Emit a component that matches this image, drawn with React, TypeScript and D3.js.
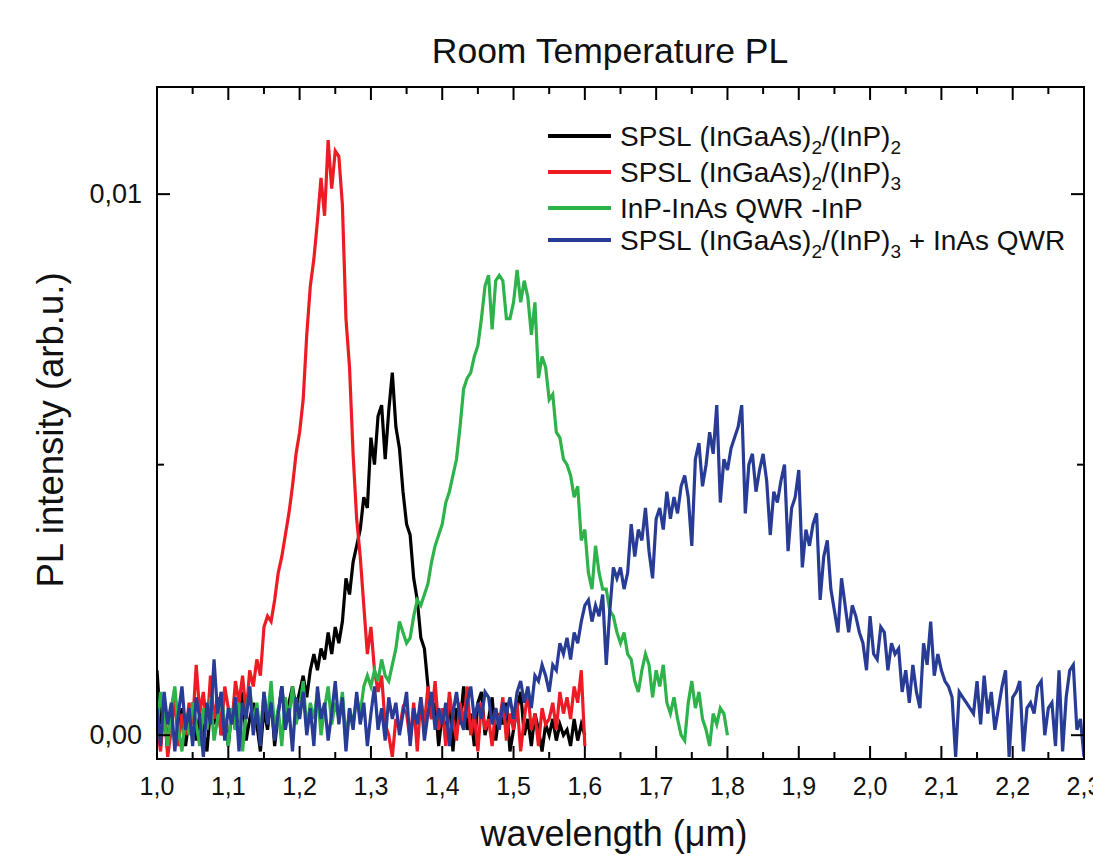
import React from "react";
import * as d3 from "d3";

// Spectra sampled on a uniform wavelength grid (µm), intensities in units of 1e-4 arb.u.
const lambdaStart = 1.0;
const lambdaStep = 0.005;
const intensityUnit = 1e-4;

const seriesLabels = [
  [{ t: "SPSL (InGaAs)" }, { t: "2", sub: true }, { t: "/(InP)" }, { t: "2", sub: true }],
  [{ t: "SPSL (InGaAs)" }, { t: "2", sub: true }, { t: "/(InP)" }, { t: "3", sub: true }],
  [{ t: "InP-InAs QWR -InP" }],
  [{ t: "SPSL (InGaAs)" }, { t: "2", sub: true }, { t: "/(InP)" }, { t: "3", sub: true }, { t: " + InAs QWR" }],
];

// SPSL (InGaAs)2/(InP)2 : 1.000 .. 1.600
const blackSpsl22 = [
  12, 2, 6, -3, 4, 8, 0, 5, -2, 3,
  6, -1, 4, 1, -3, 5, 2, 7, 0, 3,
  -2, 5, 1, 4, 8, -1, 3, 6, 2, -3,
  5, 1, 7, -2, 4, 9, 3, 6, 9, 5,
  8, 11, 7, 12, 15, 12, 16, 14, 19, 15,
  20, 17, 21, 29, 26, 32, 35, 38, 44, 42,
  55, 50, 59, 61, 51, 60, 67, 57, 53, 45,
  39, 37, 29, 25, 18, 16, 9, 3, 6, -2,
  4, 0, 7, -3, 5, 2, 9, 1, 4, -2,
  6, 8, 0, 3, 7, -1, 4, 2, 6, -3,
  1, 5, 8, 0, 3, -2, 4, 1, -3, 2,
  0, 3, -1, 2, 0, 1, -2, 3, -1, 2,
  0,
];

// SPSL (InGaAs)2/(InP)3 : 1.000 .. 1.600
const redSpsl23 = [
  2, -3, 5, -4, 1, 7, -2, 4, 0, 6,
  2, 13, 4, 8, 1, 11, 3, 7, 0, 9,
  5, 2, 10, 6, 11, 4, 12, 9, 14, 11,
  20, 22, 21, 25, 30, 33, 37, 41, 46, 52,
  56, 62, 74, 83, 88, 95, 103, 96, 110, 101,
  108, 107, 98, 77, 68, 52, 40, 33, 24, 15,
  20, 12, 8, 11, 2, 0, -4, 3, 1, 5,
  4, -1, 6, -3, 7, 2, 9, 3, 10, 1,
  5, -2, 8, 3, -1, 6, 2, 9, 0, 4,
  -3, 6, 1, 3, -2, 5, 2, 7, -1, 4,
  1, 6, -3, 3, 8, 1, 4, -2, 5, 2,
  3, 6, 1, 8, 4, 7, 3, 9, 6, 12,
  -2,
];

// InP-InAs QWR -InP : 1.000 .. 1.800
const greenQwr = [
  1, 8, 3, -2, 5, 9, 1, -3, 4, 0,
  6, 2, -2, 5, 1, 7, -1, 3, 8, 2,
  -2, 5, 1, 6, -3, 4, 9, 2, 6, 0,
  8, 3, 10, 1, 5, -2, 7, 3, 9, 2,
  5, 10, 1, 6, 3, 8, 0, 5, 9, 2,
  6, 3, 8, -1, 5, 2, 7, 4, 9, 11,
  9, 12, 10, 14, 11, 10, 13, 16, 21, 19,
  17, 18, 22, 25, 24, 26, 28, 32, 35, 37,
  39, 43, 45, 48, 51, 57, 64, 66, 67, 70,
  72, 77, 83, 85, 75, 84, 85, 84, 77, 77,
  80, 86, 80, 84, 81, 74, 80, 66, 70, 68,
  62, 63, 56, 55, 51, 50, 48, 44, 46, 36,
  38, 30, 27, 35, 30, 27, 27, 23, 22, 19,
  17, 19, 15, 14, 10, 8, 12, 15, 13, 7,
  12, 9, 13, 6, 4, 7, 3, 0, -1, 6,
  10, 5, 8, 3, 1, -2, 4, 2, 5, 4,
  0,
];

// SPSL (InGaAs)2/(InP)3 + InAs QWR : 1.000 .. 2.300
const blueSpslQwr = [
  5, -2, 8, 2, 6, -3, 4, 9, 1, 5,
  -2, 7, 3, -4, 6, 2, 14, 4, 8, -1,
  5, 2, 7, -3, 6, 3, 9, 0, 5, -2,
  8, 2, 6, -1, 4, 9, 1, 5, -3, 7,
  3, 8, 0, 5, -2, 9, 3, 6, -1, 4,
  10, 2, 7, -3, 5, 1, 8, 2, 6, -2,
  4, 9, 1, 5, -1, 7, 3, 6, 0, 4,
  8, -2, 5, 2, 7, -1, 4, 8, 1, 5,
  2, 6, -2, 4, 8, 3, 1, 6, 9, 3,
  6, 3, 8, 7, 2, 5, 1, 6, 4, 7,
  3, 8, 10, 6, 9, 5, 11, 10, 13, 11,
  8, 13, 12, 17, 15, 18, 14, 19, 17, 21,
  24, 25, 21, 24, 22, 26, 13, 23, 31, 29,
  31, 27, 30, 39, 33, 38, 36, 42, 34, 29,
  40, 42, 38, 45, 40, 44, 41, 46, 48, 44,
  35, 51, 54, 46, 50, 56, 52, 61, 43, 51,
  49, 53, 55, 57, 61, 41, 50, 52, 45, 49,
  52, 47, 37, 45, 43, 47, 50, 34, 42, 44,
  49, 31, 38, 35, 39, 41, 25, 33, 36, 27,
  23, 19, 29, 24, 19, 24, 22, 19, 17, 12,
  22, 15, 14, 20, 19, 12, 17, 15, 16, 8,
  12, 6, 13, 8, 5, 17, 13, 21, 11, 15,
  12, 10, 9, 7, -4, 8, 7, 6, 5, 4,
  10, 2, 11, 4, 8, 1, 5, 9, 12, -4,
  7, 8, 10, -3, 5, 6, 4, 9, 10, 0,
  5, 6, -2, 12, -3, 7, 12, 13, 1, 3,
  -4,
];

const seriesData = [blackSpsl22, redSpsl23, greenQwr, blueSpslQwr];
const seriesColors = ["#000000", "#ed1c24", "#2db34a", "#283c96"];

const xMajorTicks = [1.0, 1.1, 1.2, 1.3, 1.4, 1.5, 1.6, 1.7, 1.8, 1.9, 2.0, 2.1, 2.2, 2.3];
const xMinorTicks = [1.05, 1.15, 1.25, 1.35, 1.45, 1.55, 1.65, 1.75, 1.85, 1.95, 2.05, 2.15, 2.25];
const yMajorTicks = [0, 0.01];
const yMinorTicks = [0.005];

const chartTitle = "Room Temperature PL";
const xTitle = "wavelength (\u03bcm)";
const yTitle = "PL intensity (arb.u.)";

const FONT = "'Liberation Sans', Arial, Helvetica, sans-serif";

export default function App() {
  const W = 1093;
  const H = 855;
  const left = 157;
  const right = 1084;
  const top = 87;
  const bottom = 759;

  const x = d3.scaleLinear().domain([1.0, 2.3]).range([left, right]);
  const y = d3.scaleLinear().domain([-0.00044, 0.01198]).range([bottom, top]);

  const locale = d3.formatLocale({ decimal: ",", thousands: ".", grouping: [3], currency: ["", ""] });
  const fx = locale.format(".1f");
  const fy = locale.format(".2f");

  const line = d3
    .line<number>()
    .x((_, i) => x(lambdaStart + i * lambdaStep))
    .y((v) => y(v * intensityUnit));

  const majorLen = 13;
  const minorLen = 7;

  const legendRows = [136, 172, 208, 240];

  return (
    <svg
      width={W}
      height={H}
      style={{ position: "absolute", left: 0, top: 0, background: "#fff" }}
      fontFamily={FONT}
    >
      <defs>
        <clipPath id="plotClip">
          <rect x={left} y={top} width={right - left} height={bottom - top} />
        </clipPath>
      </defs>
      <rect x={0} y={0} width={W} height={H} fill="#fff" />

      <g clipPath="url(#plotClip)">
        {seriesData.map((d, i) => (
          <path
            key={i}
            d={line(d) || ""}
            fill="none"
            stroke={seriesColors[i]}
            strokeWidth={3.2}
            strokeLinejoin="miter"
          />
        ))}
      </g>

      {/* frame */}
      <rect x={left} y={top} width={right - left} height={bottom - top} fill="none" stroke="#000" strokeWidth={2} />

      {/* x ticks bottom & top */}
      {xMajorTicks.map((t) => (
        <g key={"xM" + t}>
          <line x1={x(t)} x2={x(t)} y1={bottom} y2={bottom - majorLen} stroke="#000" strokeWidth={2} />
          <line x1={x(t)} x2={x(t)} y1={top} y2={top + majorLen} stroke="#000" strokeWidth={2} />
          <text x={x(t)} y={795} fontSize={25} textAnchor="middle" fill="#111">
            {fx(t)}
          </text>
        </g>
      ))}
      {xMinorTicks.map((t) => (
        <g key={"xm" + t}>
          <line x1={x(t)} x2={x(t)} y1={bottom} y2={bottom - minorLen} stroke="#000" strokeWidth={2} />
          <line x1={x(t)} x2={x(t)} y1={top} y2={top + minorLen} stroke="#000" strokeWidth={2} />
        </g>
      ))}

      {/* y ticks left & right */}
      {yMajorTicks.map((t) => (
        <g key={"yM" + t}>
          <line x1={left} x2={left + majorLen} y1={y(t)} y2={y(t)} stroke="#000" strokeWidth={2} />
          <line x1={right} x2={right - majorLen} y1={y(t)} y2={y(t)} stroke="#000" strokeWidth={2} />
          <text x={142} y={y(t) + 9} fontSize={27} textAnchor="end" fill="#111">
            {fy(t)}
          </text>
        </g>
      ))}
      {yMinorTicks.map((t) => (
        <g key={"ym" + t}>
          <line x1={left} x2={left + minorLen} y1={y(t)} y2={y(t)} stroke="#000" strokeWidth={2} />
          <line x1={right} x2={right - minorLen} y1={y(t)} y2={y(t)} stroke="#000" strokeWidth={2} />
        </g>
      ))}

      {/* titles */}
      <text x={610} y={63} fontSize={35.5} textAnchor="middle" fill="#111">
        {chartTitle}
      </text>
      <text x={614} y={846} fontSize={36} textAnchor="middle" fill="#111">
        {xTitle}
      </text>
      <text transform="translate(63,430) rotate(-90)" fontSize={36.5} textAnchor="middle" fill="#111">
        {yTitle}
      </text>

      {/* legend */}
      {seriesLabels.map((segs, i) => {
        const ry = legendRows[i];
        return (
          <g key={"lg" + i}>
            <line x1={548} x2={611} y1={ry} y2={ry} stroke={seriesColors[i]} strokeWidth={4} />
            <text x={620} y={ry + 10} fontSize={28} fill="#111">
              {segs.map((s, j) => {
                const prevSub = j > 0 && (segs[j - 1] as any).sub;
                const isSub = (s as any).sub;
                const dy = isSub ? 8 : prevSub ? -8 : 0;
                return (
                  <tspan key={j} dy={dy} fontSize={isSub ? 19 : 28}>
                    {s.t.replace(/ /g, "\u00a0")}
                  </tspan>
                );
              })}
            </text>
          </g>
        );
      })}
    </svg>
  );
}
